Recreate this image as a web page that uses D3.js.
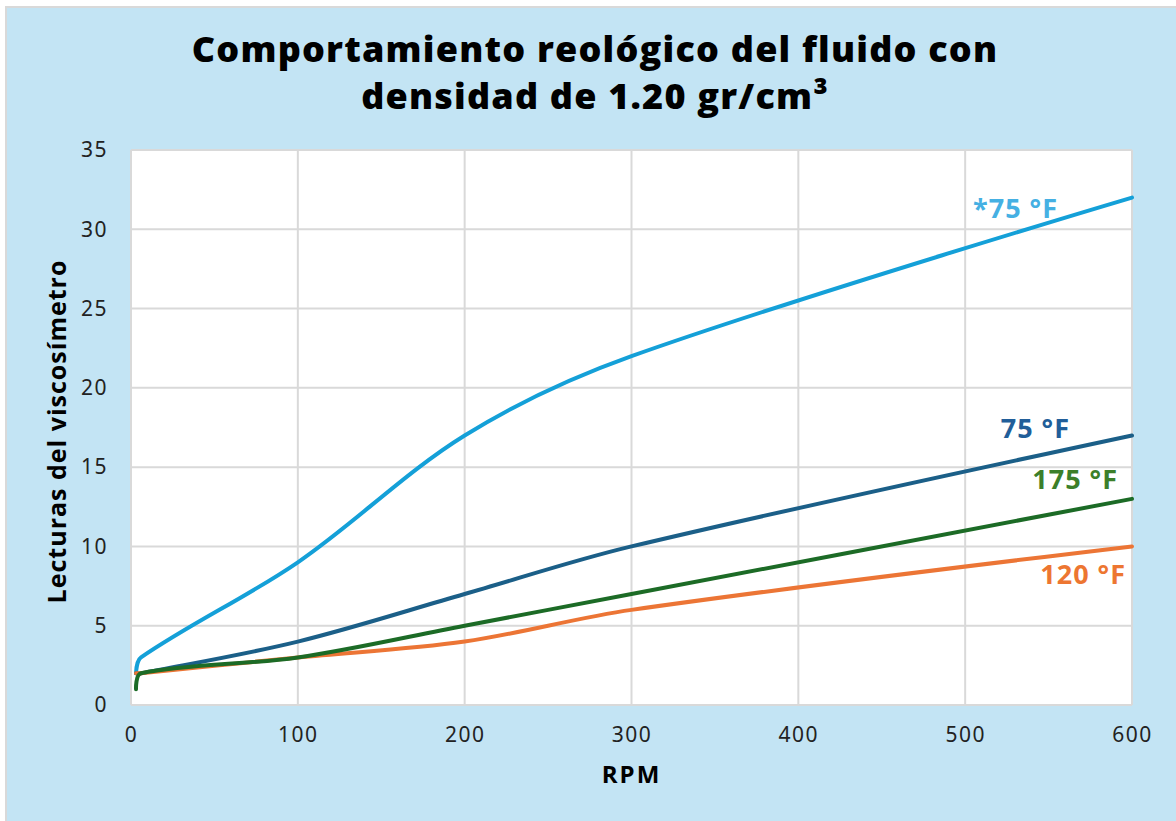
<!DOCTYPE html>
<html>
<head>
<meta charset="utf-8">
<script src="https://cdn.jsdelivr.net/npm/d3@7"></script>
<style>
  body { margin: 0; background: #fff; }
  svg { display: block; font-family: 'Open Sans', 'Noto Sans', sans-serif; }
</style>
</head>
<body>
<div id="chart"></div>
<script>
// viscometer speeds (RPM)
const rpm = [3, 6, 100, 200, 300, 600]

// readings per temperature
const starF75 = [2, 3, 9, 17, 22, 32]
const f75 = [2, 2, 4, 7, 10, 17]
const f175 = [1, 2, 3, 5, 7, 13]
const f120 = [2, 2, 3, 4, 6, 10]

const seriesNames = ['*75 °F', '75 °F', '175 °F', '120 °F']
const xTicks = [0, 100, 200, 300, 400, 500, 600]
const yTicks = [0, 5, 10, 15, 20, 25, 30, 35]

const width = 1176
const height = 821
const margin = { top: 150, right: 44, bottom: 116, left: 131 }

const svg = d3
  .select('#chart')
  .append('svg')
  .attr('width', width)
  .attr('height', height)

// panel background + thin border on top/left
svg.append('rect').attr('x', 0).attr('y', 0).attr('width', width).attr('height', height).attr('fill', '#fff')
svg.append('rect').attr('x', 5).attr('y', 6).attr('width', width - 5).attr('height', height - 6).attr('fill', '#d9d9d9')
svg.append('rect').attr('x', 7).attr('y', 8).attr('width', width - 7).attr('height', height - 8).attr('fill', '#c3e4f4')

const x = d3.scaleLinear().domain([0, 600]).range([margin.left, width - margin.right])
const y = d3.scaleLinear().domain([0, 35]).range([height - margin.bottom, margin.top])

// plot area
svg.append('rect')
  .attr('x', x(0))
  .attr('y', y(35))
  .attr('width', x(600) - x(0))
  .attr('height', y(0) - y(35))
  .attr('fill', '#fff')

// gridlines
const grid = svg.append('g').attr('stroke', '#d9d9d9').attr('stroke-width', 2)
grid.selectAll('.h')
  .data(yTicks)
  .join('line')
  .attr('x1', x(0)).attr('x2', x(600))
  .attr('y1', (d) => y(d)).attr('y2', (d) => y(d))
grid.selectAll('.v')
  .data(xTicks)
  .join('line')
  .attr('x1', (d) => x(d)).attr('x2', (d) => x(d))
  .attr('y1', y(0)).attr('y2', y(35))

// axes
const xAxis = svg.append('g')
  .attr('transform', `translate(0,${y(0)})`)
  .call(d3.axisBottom(x).tickValues(xTicks).tickSize(0).tickPadding(22))
xAxis.select('.domain').remove()
xAxis.selectAll('text')
  .attr('font-size', 21)
  .attr('letter-spacing', 1.5)
  .attr('fill', '#222')
  .attr('font-family', "'Noto Sans', sans-serif")

const yAxis = svg.append('g')
  .attr('transform', `translate(${x(0)},0)`)
  .call(d3.axisLeft(y).tickValues(yTicks).tickSize(0).tickPadding(23))
yAxis.select('.domain').remove()
yAxis.selectAll('text')
  .attr('font-size', 21)
  .attr('letter-spacing', 1.5)
  .attr('fill', '#222')
  .attr('font-family', "'Noto Sans', sans-serif")

// series lines
const series = [
  { name: seriesNames[0], values: starF75, color: '#14a0d8', label: '#45b0e3', lx: 1058, ly: 218 },
  { name: seriesNames[1], values: f75, color: '#1b5f88', label: '#215e99', lx: 1070, ly: 438 },
  { name: seriesNames[2], values: f175, color: '#1c6b26', label: '#3c7f2a', lx: 1118, ly: 489 },
  { name: seriesNames[3], values: f120, color: '#ec7535', label: '#ed7631', lx: 1126, ly: 584 },
]

// spreadsheet-style smoothing: tangent along neighbours, handle length
// proportional to each adjacent segment so short segments don't bulge
function smoothPath(pts, t = 0.33) {
  const p = d3.path()
  p.moveTo(pts[0][0], pts[0][1])
  const dir = pts.map((pt, i) => {
    if (i === 0 || i === pts.length - 1) return [0, 0]
    const dx = pts[i + 1][0] - pts[i - 1][0]
    const dy = pts[i + 1][1] - pts[i - 1][1]
    const len = Math.hypot(dx, dy)
    return [dx / len, dy / len]
  })
  for (let i = 0; i < pts.length - 1; i++) {
    const a = pts[i]
    const b = pts[i + 1]
    const seg = Math.hypot(b[0] - a[0], b[1] - a[1]) * t
    p.bezierCurveTo(
      a[0] + dir[i][0] * seg, a[1] + dir[i][1] * seg,
      b[0] - dir[i + 1][0] * seg, b[1] - dir[i + 1][1] * seg,
      b[0], b[1]
    )
  }
  return p.toString()
}

const drawOrder = [0, 1, 3, 2]
drawOrder.forEach((i) => {
  const s = series[i]
  const pts = rpm.map((r, j) => [x(r), y(s.values[j])])
  svg.append('path')
    .attr('d', smoothPath(pts))
    .attr('fill', 'none')
    .attr('stroke', s.color)
    .attr('stroke-width', 4)
    .attr('stroke-linecap', 'round')
})

// series labels
svg.selectAll('.slabel')
  .data(series)
  .join('text')
  .attr('x', (d) => d.lx)
  .attr('y', (d) => d.ly)
  .attr('text-anchor', 'end')
  .attr('font-size', 27)
  .attr('letter-spacing', 1)
  .attr('font-weight', 700)
  .attr('fill', (d) => d.label)
  .text((d) => d.name)

// title
const title = svg.append('text')
  .attr('text-anchor', 'middle')
  .attr('font-size', 36)
  .attr('letter-spacing', 1.2)
  .attr('font-weight', 800)
  .attr('fill', '#000')
title.append('tspan').attr('x', 595).attr('y', 62).text('Comportamiento reológico del fluido con')
title.append('tspan').attr('x', 595).attr('y', 109).text('densidad de 1.20 gr/cm³')

// axis titles
svg.append('text')
  .attr('x', x(300))
  .attr('y', 783)
  .attr('text-anchor', 'middle')
  .attr('font-size', 24)
  .attr('letter-spacing', 2)
  .attr('font-weight', 700)
  .text('RPM')

svg.append('text')
  .attr('transform', `translate(66,${(y(0) + y(35)) / 2 + 4}) rotate(-90)`)
  .attr('text-anchor', 'middle')
  .attr('font-size', 25)
  .attr('letter-spacing', 1)
  .attr('font-weight', 700)
  .text('Lecturas del viscosímetro')
</script>
</body>
</html>
